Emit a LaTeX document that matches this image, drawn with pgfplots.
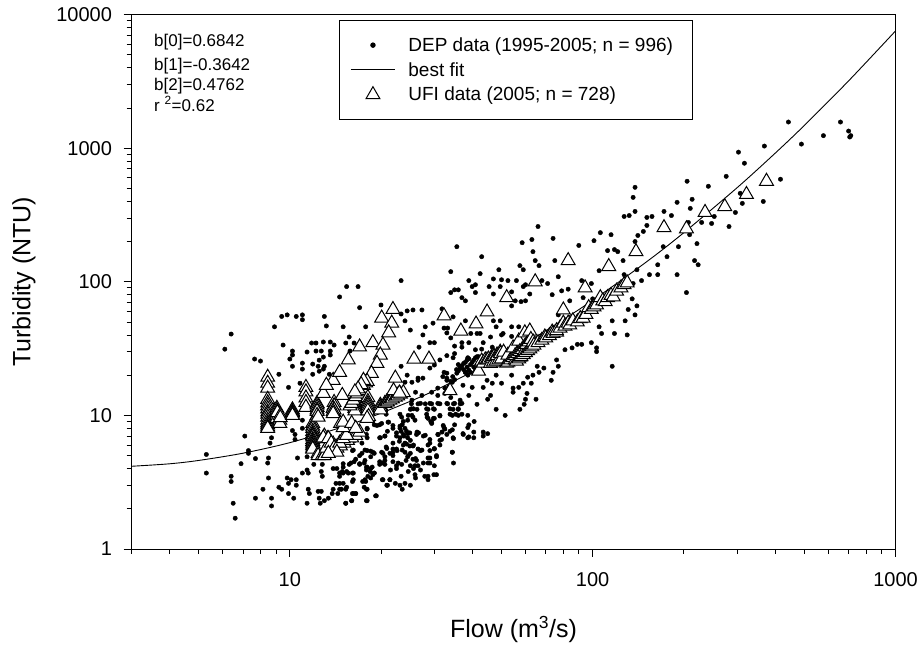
\documentclass[border=0pt]{standalone}
\usepackage{fontspec}
\setmainfont{Liberation Sans}
\usepackage{pgfplots}
\pgfplotsset{compat=1.18}
\usepackage{pgfplotstable}
\pgfplotsset{
  widemark/.style={legend image code/.code={\draw[mark repeat=2,mark phase=2,##1] plot coordinates {(0pt,0pt)(22pt,0pt)(44pt,0pt)};}},
  wideline/.style={legend image code/.code={\draw[##1] (0pt,0pt)--(44pt,0pt);}},
}
\pgfplotstableread{
x y
443 1568
658 1568
700 1342
706 1211
712 1240
578 1240
489 1072
303 933
317 771
369 1036
417 585
366 399
312 386
307 459
296 330
282 259
276 615
241 518
205 565
213 414
210 354
190 393
172 336
182 313
157 308
151 303
151 264
147 238
141 222
138 200
138 336
127 308
132 313
138 509
136 428
229 278
247 273
252 308
207 278
209 225
221 193
192 183
171 183
176 154
164 134
217 144
223 134
190 113
164 113
154 113
145 102
140 123
126 144
204 83
140 66
136 97
66 259
58.5 196
63 207
74 211
90 187
101 203
106 233
115 225
112 171
118 174
121 168
35.6 183
43 154
34 119
42.5 115
49 123
63.5 168
64.6 144
66.5 132
57.5 132
59 123
75 144
77 109
105 121
92 102
99 97
79 85.5
83 88
73.5 80
71 97
68 102
60 95
59 92
50 103.5
47 105
52.5 102
56 102
45.5 92
49.5 92
47 81
54 84
62 81
39 102
41 95
40 92
41 83
34 83
35 87
36 87
37 76
38 72
55.5 72
58 71
60 72
54 66
84 72
77 56.5
100 74.5
93 76
135 74.5
138 56.5
131 62
127 113
116 51
128 51
118 41
130 40
107 41
105 46
103 32
103 30
99 35
92 34
89 34
85.5 32
81 31
116 23.3
76 26
77 23.3
69 22.6
65.6 23.3
74 21
66.5 21
63.5 20
61 19.3
73 18.3
59 17.4
62.7 17.4
57 16.2
54.6 16
54.6 14.9
60.7 14.6
60 13.2
65 13.2
59.4 12.1
57.5 11.1
51.4 10
48 11.1
41.5 12.1
45 13.2
46 14.1
43.5 16.2
46.6 17.4
50 17.4
54 20
48 20
44.8 18.3
25 43.5
24 51
24.4 60.5
25.5 61.5
27.3 61.5
23.3 57.4
23.3 102
31.8 62.7
34.6 54.6
29.7 49
28 46
32.3 45
33.2 45
33 41.4
27.5 40
34 38
38 51
48 46
47 51
49.5 51
39.6 41
41.5 41
42.5 41
37 35
39 35
43.5 35
46 38.6
50 40
54 46
57 46
50.6 41
54 39
26.7 32.4
29 35
30 35
35 33
37 32.4
41 31
43 31.3
46.6 32.4
33 28
35 29
38.7 27
34.6 27
30 23.8
31.3 26
29 22.6
23.3 23.3
24.4 20
26.5 19
27.5 19
32.3 21
33 20.7
35.6 20.7
38 21
36.5 23
39 21.8
38.7 20
41 21.8
33 18.3
34.4 17.7
25.3 17.7
26.5 18.3
24 17.7
30.8 16
33 15.4
37.3 16.8
40 16.2
29.4 14.9
27.3 14.1
26 14.9
30.8 14.1
39 14.1
32.5 14.6
34 13.6
36.5 13
25.3 13
27 12.3
29 12.3
30.8 12.3
33 12.3
35 12.3
37 12.3
25 11.1
26.3 11.1
28.6 11.1
30 11.1
34.6 11.1
36 11.1
34.4 10
36 10
38.7 10
31.3 10
30 9.5
28.4 9.7
25.5 9.7
24.5 9.2
23.4 9.7
29.4 8.7
40.6 9
38.7 8.1
34.4 7.8
32.3 8.1
31.8 7.5
37.3 7.3
38.7 6.8
40.5 6.8
34.6 6.8
30.8 7.2
28 7.1
26.3 7.5
24.5 7.3
40.5 7.5
43.5 7.5
45 7.3
43.5 7
31.3 6.5
29 6.2
24 6.2
25.5 5.9
30 5.65
27 5.45
29 5.45
34.4 5.3
30.5 5
24.5 4.9
28.6 4.8
26 4.75
15.4 92
16.8 92
14.6 77
17 64
20 67
9.4 55
9.8 56.5
10.5 55
11 56.5
13 55
11 52
13.2 46.7
8.9 46
15 46
17.8 46
6.4 40.6
6.1 31.3
9.5 33.6
11.8 34.8
12.2 34.8
12.9 35.4
13.6 35.4
14 33.6
15.3 34.8
16.3 34.8
15.7 38.6
10.2 30.3
10.2 28.3
11.4 29.8
12.2 30.3
12.7 30.3
13.6 30.3
13.6 28.3
15.8 30.3
7.65 26.4
8 25.5
10 26.4
12.9 27.3
12.5 25.9
11 24.6
10.2 23.3
11 22.2
11.9 24.2
12.4 23.3
13 23.3
12.9 22.2
12.5 21.4
11.9 20.3
9.2 20.3
13.5 20.3
9.9 16.2
10.8 17.4
7.1 7
8.7 6.8
8.6 6.2
7.3 5.45
7.3 5.2
5.3 5.1
5.3 3.7
6.9 4.35
7.7 4.75
8.5 4.8
8.45 4.4
10.6 4.8
10.2 7.7
10.4 7.2
10.4 6.6
11 9.2
11 8
6.4 3.5
6.4 3.2
8.5 3.4
8.15 2.8
6.5 2.2
6.6 1.7
7.7 2.4
8.7 2.4
8.7 2.1
10.3 2.4
9.8 3.4
10.1 3.3
10.5 3.3
9.9 3.1
10.5 3
9.2 2.9
9.4 2.8
9.9 2.6
11.5 2.8
11.6 2.6
12.4 2.7
12.7 2.7
11.4 2.2
12.5 2.4
12.6 2.2
13 2.3
13.4 2.4
13.8 2.6
14.4 2.6
13.9 2.8
15.3 2.2
16 2.3
18 2.3
16.1 2.6
16.5 2.6
15.3 2.8
14.6 2.8
14.2 3.1
15 3.1
14.6 3.7
15 3.7
15.6 3.7
16.1 3.7
16.1 3.2
13.9 4
14.3 4
11 3.7
11.5 3.7
11.4 3.9
12.7 3.8
12.8 3.5
12 4.3
12.8 4.3
11.4 4.9
15 4.35
15.9 4.4
16.5 4.7
17 4.35
17.6 4.4
18 4.1
18.7 4.1
18.4 3.8
19 3.7
18.1 3.5
17.8 3.2
17.6 2.9
18 2.8
20.3 3.3
21.4 3.3
20.9 3
19.2 2.5
19.9 4.4
20.6 4.6
21.9 5.3
20.9 5.65
20.1 5.3
18.8 5.3
18 5.45
17.3 5.2
16.1 5.45
17.3 6.2
16.4 6.5
17 7.1
18 6.8
19.9 6.8
20.6 7
21 7.6
21.9 8
18 8
19.4 8.4
20.1 8.7
21.2 8.9
21.9 6.2
22.6 5.45
22.8 4.4
20.3 4.4
22.5 4
23.3 3.5
24 3.1
25 3
26 3.4
25 4.2
27 3.9
28.6 3.3
23 6.4
24 5.3
25.5 4.7
26.5 4.2
21.5 3.9
22.3 3.1
23.5 2.8
29 4.4
30 4.2
30.5 3.6
20.8 10.2
23.1 10.2
24.6 10
25.3 10
25.9 9.2
23.7 9
23.1 8.3
23.1 8
22.5 7.4
22.5 7
23.7 7.2
23.1 6.8
24.3 7.6
24.9 7.4
26.2 7.2
26.6 7.4
27.6 7
21.9 8.4
21.1 8.9
19.8 8.5
19 8.5
18.8 9.1
18 7.9
17.9 7.2
20.6 7
19.8 6.8
30.9 7.2
32.5 7.9
33 7.2
33.8 7.6
32.1 8.4
35 8.5
39 8.5
37.4 7.2
39 6.9
34.7 6.7
31.7 6.6
31.3 6
29 6.6
28.6 6
30 5.6
27.3 5.5
30.5 4.9
29 4.8
28.6 4.4
27.6 4.4
26.2 4.6
24.3 6.1
24.9 5.9
25.6 6
23.7 6
22.5 5.6
21.9 5.6
21.4 5.2
20.8 5.8
20.3 5.2
19 5.2
18.5 5.4
17.7 5.5
17 5
16.2 5.5
21.9 5
20.6 4.9
19.8 4.5
19.8 4.3
21.9 4.5
22.5 4.2
23.4 4.3
20.6 4.3
18.5 4.9
17.7 4.6
17 4.3
16.3 4.5
15.7 4.3
15 4.1
17.9 4.1
18.5 4
18.8 3.6
17.9 3.9
17.7 3.3
17.4 3.2
18.5 3.4
19 3.7
24.6 5
25.9 4.2
25.6 4
24.6 3.8
25.9 3.6
27.9 3.5
28.6 3.5
29.9 3.6
23.1 3
21.4 3.3
20.2 3.3
21 3
17.9 2.8
19.3 2.5
17.9 2.3
16.2 2.6
16.5 2.6
16 2.3
15.3 2.2
15.4 2.9
14.8 2.8
14.6 3.1
16.2 3.3
16.2 3.7
15.4 3.8
14.9 3.8
14.6 3.5
34.4 5.3
34.7 4.4
25.2 12.2
26.5 12.2
28 12.2
29.4 12.2
31.3 12.2
33.2 12.2
34.7 12.2
36.5 12.2
25.2 11.2
25.6 11.2
28.3 11.2
29.8 11.2
33.8 11.2
36 11.2
28.3 10.2
28.6 9.5
29.4 8.9
31.3 9.9
29.8 9.5
33.8 10.2
35.3 10.2
37 10.2
29.2 9
36 21.5
36.5 22.5
37 23.5
37.5 24.5
38 25
38.5 26
39 26.5
37.5 22
38.5 23
39.5 24
40 25
40.5 26
41 27
41.5 27.5
42 27.5
38 21
39.5 21
40.5 23
36 24
35.5 22
32 19.5
33 19
34 18
34.5 19.5
35 18.5
33.5 16.5
32.5 16
23.5 8.5
24 8
23.3 7.6
24.5 6.8
25 6.5
23.5 5.5
25 5.2
26.5 5.6
24.2 4.6
23.8 7
}\dep
\pgfplotstableread{
x y
8.45 19.3
8.45 17.4
8.45 16
8.45 13.2
8.45 12.4
8.45 11.8
8.45 11.2
8.45 10.6
8.45 10.2
8.45 9.7
8.45 9.2
8.45 8.8
8.45 8.5
8.45 8.2
8.45 8
9.06 11.3
9.06 10.9
9.06 10.5
9.06 10
9.06 9.5
9.27 9.2
9.27 8.7
9.1 10.5
9.3 10
9.3 9.6
10.2 11
10.2 10.7
10.2 10.5
10.2 10.2
10.2 10
11.3 16.2
11.3 15
11.3 13.5
11.3 12.5
11.3 11.5
12.3 12.3
12.3 12
12.3 11.5
12.3 11
12.3 10.7
12.3 10
11.9 8.7
11.9 8.3
11.9 8
11.9 7.6
11.9 7.3
11.9 7.1
11.9 6.9
11.9 6.6
11.9 6.4
11.9 6.2
11.9 6
11.9 5.9
11.9 5.7
11.9 5.6
12.4 5.2
12.4 5
12.9 14.6
13.9 18.3
13.2 16.8
14 12.5
14 11.8
13.9 11.3
14 11
13.9 10.7
13.9 10.3
14.6 21
15.6 26
17 32.5
18.8 35
20.1 53.5
21.9 62
21.7 49
21.2 41.5
20.3 33.6
19.9 28.3
19.4 24.5
18.6 20.6
22.3 19
14.9 14.1
14.7 8.7
16.4 13.4
16.4 12.5
16.4 12
16.4 11.7
16.4 11.3
16.4 10.8
15.8 11.8
16 12.3
16.2 13
16.5 13.8
16.7 14.5
17 15.3
17.3 16
17.5 16.8
17.8 17.5
18 18
17.5 18.3
17.2 17
16.8 15.8
16.4 15
18.1 13.6
18.1 12.7
18.1 12.2
18.1 11.8
18.1 11.3
18.1 10.8
18.2 9.8
19.9 11.9
19.9 11.5
19.9 11
20.6 12.3
20.9 12.6
21 12.6
21.4 13
21.7 13.4
21.8 13.3
22.3 13.7
22.6 14.2
22.7 14
23.2 14.4
23.7 14.8
22 15.3
13 7
13.3 6.7
13.6 6.4
13.9 6.1
14.2 5.8
13.2 5.5
12.8 5
13.1 5.2
13.5 5.4
13.9 5.5
14.3 5.7
14.7 5.9
15.1 6.2
15.5 6.5
16 6.8
16.5 7.1
17 7.5
13 5
13.2 5.7
12.9 6.8
13.4 6.7
13.7 6.2
14 5.7
14.6 6.2
15 6.7
14.3 5.3
13.4 5.2
15.4 7.1
15 8.1
15 8.9
16 8.7
16.5 8
18 9.5
12.4 9.7
23 14.7
25.7 26.4
28.8 26.4
32.3 55.5
36.7 42.8
41.2 48.3
44.8 59.4
52 76
64.6 100
83 144
113 130
139 168
94.4 90
80 61.5
42 21.4
33.8 15.3
43 25.5
43.5 24.6
44.2 26
44.8 26
45.3 26.4
46 24.5
46.3 27
46.6 26.8
47 25
47.3 27.6
48 25.5
48.3 28.3
48.4 28
49 26
49.5 29.7
49.6 29
50 26.5
50.8 29.7
52 24.6
52.5 25
52.5 28.3
53.5 26
54.5 27
54.6 32
55.5 26
55.5 28
56 25.5
56.5 29
57 26.5
57 36
57.5 27.3
57.5 30
58 27.5
58.5 31
59 28.5
59.5 32.5
59.7 30.5
59.7 41.5
60 29.5
60.5 34
61 30.5
61.5 35.5
62 31.5
62 42.8
62.5 37
63 32.5
63.6 35.4
64 33.5
66 35
68 36.5
69.5 38.6
70 38
72 39.5
73.5 42
74 41
76 42
76 43
78 45
80 49
81 46.5
83 49
84 47.5
86 51
89 50
91 53
93 53.5
95 57
97 64
99 62
101 65
103 67
106 76
108 72
110 71
112 76
115 79
117 77
120 85
124 90
127 95
130 98
172 254
204 249
235 330
273 365
322 450
375 565
}\ufi
\pgfplotstableread{
x y
3 4.16
4 4.34
5 4.60
7 5.21
10 6.25
15 8.22
20 10.39
30 15.3
50 27.5
70 43
100 72.6
150 140
200 233
300 506
400 914
500 1479
700 3186
1000 7534
}\fit
\begin{document}
\begin{tikzpicture}[x=1pt,y=1pt]
\path[use as bounding box] (-131.5,-96) rectangle (791.5,549);
\begin{axis}[
  at={(0,0)},anchor=south west,
  scale only axis,width=764pt,height=534.5pt,
  xmode=log,ymode=log,
  xmin=3,xmax=1000,ymin=1,ymax=10000,
  xtick={10,100,1000},xticklabels={10,100,1000},
  ytick={1,10,100,1000,10000},yticklabels={1,10,100,1000,10000},
  minor xtick={3,4,5,6,7,8,9,20,30,40,50,60,70,80,90,200,300,400,500,600,700,800,900},
  minor ytick={2,3,4,5,6,7,8,9,20,30,40,50,60,70,80,90,200,300,400,500,600,700,800,900,2000,3000,4000,5000,6000,7000,8000,9000},
  tick align=outside,xtick pos=bottom,ytick pos=left,
  major tick length=8pt,minor tick length=5pt,
  tick style={black,line width=.8pt},
  axis line style={line width=1pt},
  ticklabel style={font=\fontsize{20}{20}\selectfont},
  xticklabel style={yshift=-12pt},
  yticklabel style={xshift=-8pt},
  xlabel={Flow (m\textsuperscript{3}/s)},
  ylabel={Turbidity (NTU)},
  label style={font=\fontsize{25}{27}\selectfont},
  xlabel style={at={(axis description cs:0.5,-0.1497)},anchor=center},
  ylabel style={at={(axis description cs:-0.1407,0.5)},anchor=center},
  legend style={at={(axis description cs:0.2716,0.9897)},anchor=north west,
    draw=black,line width=1pt,inner xsep=11pt,inner ysep=15pt,
    font=\fontsize{19}{19}\selectfont,row sep=5.5pt,
    nodes={anchor=west,line width=.9pt}},
  legend cell align=left,
  clip=true,
]
\addplot[only marks,mark=*,mark size=2.2pt,black,widemark] table[x=x,y=y] {\dep};
\addlegendentry{\hspace*{11pt}DEP data (1995-2005; n = 996)\hspace*{6pt}\mbox{}}
\addplot[black,line width=.9pt,smooth,no marks,wideline] table[x=x,y=y] {\fit};
\addlegendentry{\hspace*{11pt}best fit}
\addplot[only marks,mark=triangle*,mark size=8pt,
  mark options={fill=white,draw=black,line width=1pt},widemark] table[x=x,y=y] {\ufi};
\addlegendentry{\hspace*{11pt}UFI data (2005; n = 728)}
\node[anchor=west,inner sep=0pt,font=\fontsize{17}{17}\selectfont] at (rel axis cs:0.0295,0.9486) {b[0]=0.6842};
\node[anchor=west,inner sep=0pt,font=\fontsize{17}{17}\selectfont] at (rel axis cs:0.0295,0.9037) {b[1]=-0.3642};
\node[anchor=west,inner sep=0pt,font=\fontsize{17}{17}\selectfont] at (rel axis cs:0.0295,0.8663) {b[2]=0.4762};
\node[anchor=west,inner sep=0pt,font=\fontsize{17}{17}\selectfont] at (rel axis cs:0.0295,0.8326) {r \textsuperscript{2}=0.62};
\end{axis}
\end{tikzpicture}
\end{document}
